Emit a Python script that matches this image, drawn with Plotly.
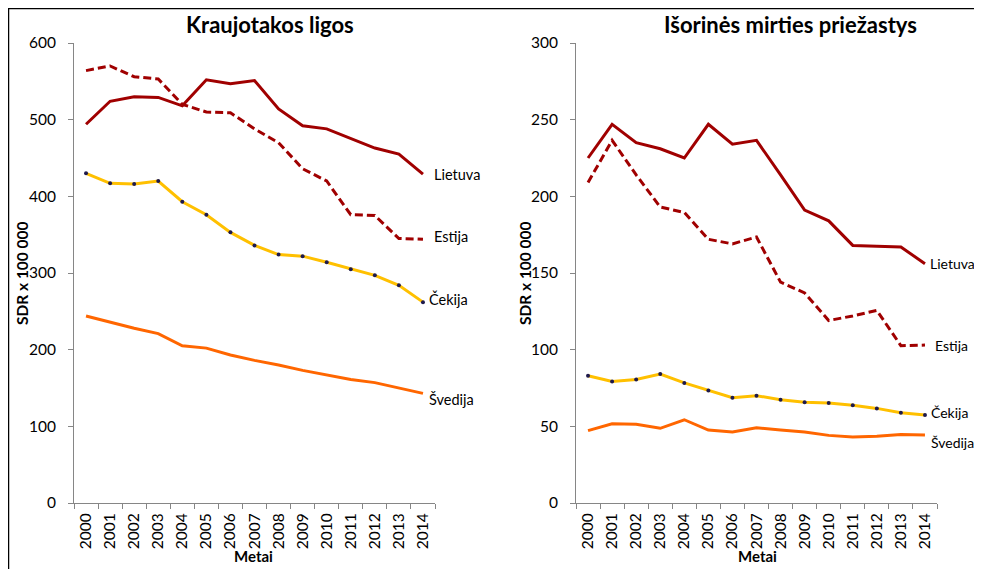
import plotly.graph_objects as go

years = [str(y) for y in range(2000, 2015)]

# Kraujotakos ligos
kl_lietuva = [494, 524, 530, 529, 518, 552, 547, 551, 514, 492, 488, 475, 463, 455, 429]
kl_estija = [564, 570, 556, 553, 520, 510, 509, 488, 470, 436, 420, 376, 375, 345, 344]
kl_cekija = [430, 417, 416, 420, 393, 376, 353, 336, 324, 322, 314, 305, 297, 284, 262]
kl_svedija = [244, 236, 228, 221, 205, 202, 193, 186, 180, 173, 167, 161, 157, 150, 143]

# Išorinės mirties priežastys
im_lietuva = [225, 247, 235, 231, 225, 247, 234, 236.5, 214, 191, 184, 168, 167.5, 167, 156]
im_estija = [209, 236.5, 214, 193, 189.5, 172, 169, 173.5, 144, 137, 119, 122, 125.6, 102.6, 103]
im_cekija = [83, 79.3, 80.6, 84.1, 78.3, 73.3, 68.7, 70, 67.4, 65.7, 65.2, 63.7, 61.7, 58.9, 57.4]
im_svedija = [47.2, 51.7, 51.3, 48.7, 54.3, 47.6, 46.3, 49.1, 47.6, 46.3, 44.1, 43, 43.5, 44.6, 44.3]

titles = ["Kraujotakos ligos", "Išorinės mirties priežastys"]
names = ["Lietuva", "Estija", "Čekija", "Švedija"]
x_title = "Metai"
y_title = "SDR x 100 000"

RED = "#A00000"
GOLD = "#FFC000"
ORANGE = "#FF6600"
FONT = "Lato"

OFF = 8  # page body margin offset
W, H = 982 - 2 * OFF, 569 - OFF


def px(x):
    return (x - OFF) / W


def py(y):
    return 1 - (y - OFF) / H


fig = go.Figure()

panels = [
    ("x", "y", [kl_lietuva, kl_estija, kl_cekija, kl_svedija],
     [0, 3, 3, -6], [10, 10, 5, 5], 14.5),
    ("x2", "y2", [im_lietuva, im_estija, im_cekija, im_svedija],
     [0, 0, 2, -7], [4, 9, 5, 5], 14),
]

styles = [
    dict(color=RED, width=3, dash="solid"),
    dict(color=RED, width=3, dash="8px,4px"),
    dict(color=GOLD, width=3, dash="solid"),
    dict(color=ORANGE, width=3, dash="solid"),
]

for xa, ya, series, yshifts, xshifts, fs in panels:
    for i, (vals, st) in enumerate(zip(series, styles)):
        mode = "lines+markers" if i == 2 else "lines"
        fig.add_trace(go.Scatter(
            x=years, y=vals, mode=mode, line=st, xaxis=xa, yaxis=ya,
            marker=dict(size=4, color="#1F1A4D"), showlegend=False,
            hoverinfo="skip"))
    for i, vals in enumerate(series):
        fig.add_annotation(
            x=len(years) - 1, y=vals[-1], xref=xa, yref=ya, text=names[i],
            showarrow=False, xanchor="left", xshift=xshifts[i],
            yshift=yshifts[i], borderpad=0,
            font=dict(family=FONT, size=fs, color="#000000"))

axis_common = dict(
    showgrid=False, zeroline=False, showline=True, linecolor="#868686",
    linewidth=1, ticks="outside", ticklen=5, tickcolor="#868686",
    automargin=False,
    tickfont=dict(family=FONT, size=15.5, color="#000000"),
)

xcommon = dict(axis_common, type="category", range=[-0.5, 14.5],
               tickson="boundaries", tickangle=-90, ticklabelstandoff=3,
               tickfont=dict(family=FONT, size=15.5, color="#000000"))

ycommon = dict(axis_common, ticklabelstandoff=9)

ydom = [py(503), py(43)]

fig.update_layout(
    width=W, height=H,
    margin=dict(l=0, r=0, t=0, b=0),
    paper_bgcolor="white", plot_bgcolor="white",
    font=dict(family=FONT, color="#000000"),
    xaxis=dict(xcommon, domain=[px(74), px(435)], anchor="y"),
    xaxis2=dict(xcommon, domain=[px(576), px(937)], anchor="y2"),
    yaxis=dict(ycommon, domain=ydom, range=[0, 600], dtick=100, anchor="x"),
    yaxis2=dict(ycommon, domain=ydom, range=[0, 300], dtick=50, anchor="x2"),
)

for t, tx in zip(titles, [270, 790]):
    fig.add_annotation(x=px(tx), y=py(25), xref="paper", yref="paper",
                       text="<b>" + t + "</b>", showarrow=False,
                       xanchor="center", yanchor="middle",
                       font=dict(family=FONT, size=22, color="#000000"))

for tx in [22, 525]:
    fig.add_annotation(x=px(tx), y=py(273), xref="paper", yref="paper",
                       text="<b>" + y_title + "</b>", showarrow=False,
                       textangle=-90, xanchor="center", yanchor="middle",
                       font=dict(family=FONT, size=15.5, color="#000000"))

for tx in [254, 757]:
    fig.add_annotation(x=px(tx), y=py(556), xref="paper", yref="paper",
                       text="<b>" + x_title + "</b>", showarrow=False,
                       xanchor="center", yanchor="middle",
                       font=dict(family=FONT, size=15, color="#000000"))

# outer chart frame (top and left edges visible)
fig.add_shape(type="line", xref="paper", yref="paper",
              x0=0, x1=1, y0=py(8.5), y1=py(8.5),
              line=dict(color="#000000", width=1.5))
fig.add_shape(type="line", xref="paper", yref="paper",
              x0=px(8.5), x1=px(8.5), y0=0, y1=py(8.5),
              line=dict(color="#000000", width=1.5))

fig.write_html("out.html")
